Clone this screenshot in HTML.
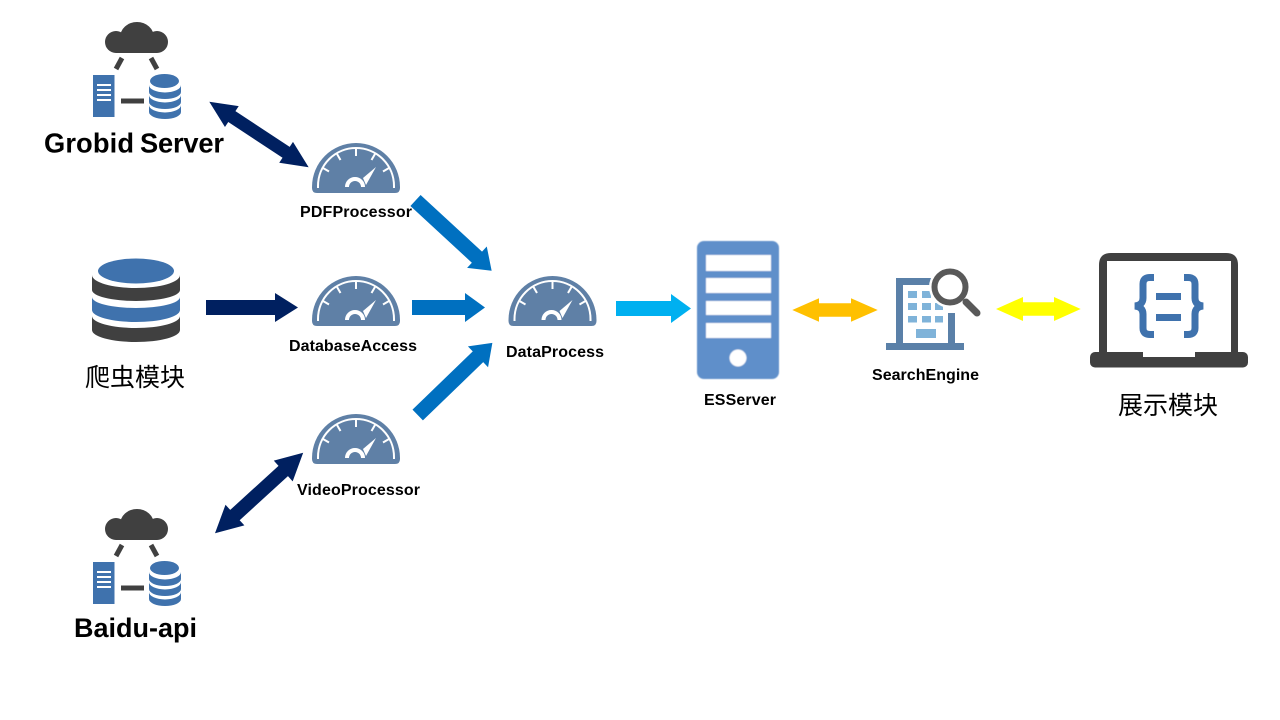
<!DOCTYPE html>
<html>
<head>
<meta charset="utf-8">
<style>
html,body{margin:0;padding:0;background:#fff;width:1280px;height:720px;overflow:hidden}
svg{display:block}
.b{font-family:"Liberation Sans",Arial,sans-serif;font-weight:bold;fill:#000}
.cjk{font-family:"Liberation Sans","Noto Sans CJK SC",sans-serif;fill:#000;font-size:25px}
</style>
</head>
<body>
<svg width="1280" height="720" viewBox="0 0 1280 720" xmlns="http://www.w3.org/2000/svg">
<defs>
  <filter id="soft" x="-5%" y="-5%" width="110%" height="110%"><feGaussianBlur stdDeviation="0.6"/></filter>
  <g id="gauge">
    <path d="M-44,0 A44,44 0 0 1 44,0 V1 Q44,6 39,6 H-39 Q-44,6 -44,1 Z" fill="#5f80a6"/>
    <path d="M-38,1 V-1 A38,38 0 0 1 38,-1 V1" fill="none" stroke="#fff" stroke-width="2"/>
    <g stroke="#fff" stroke-width="2">
      <line x1="0" y1="-38" x2="0" y2="-31"/>
      <line x1="-19" y1="-33" x2="-15.5" y2="-27"/>
      <line x1="19" y1="-33" x2="15.5" y2="-27"/>
      <line x1="-33" y1="-19" x2="-27" y2="-15.5"/>
      <line x1="33" y1="-19" x2="27" y2="-15.5"/>
    </g>
    <path d="M-9,0 A8,8 0 0 1 7,0" fill="none" stroke="#fff" stroke-width="4"/>
    <path d="M7,-9 L20,-20 L10,-2 Z" fill="#fff"/>
  </g>
  <g id="cluster">
    <g fill="#404040">
      <circle cx="116" cy="42" r="11"/>
      <circle cx="157" cy="42" r="11"/>
      <ellipse cx="137" cy="37.5" rx="17" ry="15.5"/>
      <rect x="116" y="38" width="41" height="15"/>
    </g>
    <g stroke="#404040" stroke-width="5">
      <line x1="122" y1="58" x2="116" y2="69"/>
      <line x1="151" y1="58" x2="157" y2="69"/>
      <line x1="121" y1="101" x2="144" y2="101"/>
    </g>
    <rect x="93" y="75" width="21.5" height="42" fill="#3f72ad"/>
    <g fill="#fff">
      <rect x="97" y="84" width="14" height="2"/>
      <rect x="97" y="89" width="14" height="2"/>
      <rect x="97" y="94" width="14" height="2"/>
      <rect x="97" y="99" width="14" height="2"/>
    </g>
    <g fill="#3f72ad">
      <ellipse cx="164.5" cy="81" rx="14.5" ry="7"/>
      <path d="M149,85 A16,7.5 0 0 0 181,85 V92 A16,7 0 0 1 149,92 Z"/>
      <path d="M149,95 A16,7.5 0 0 0 181,95 V102 A16,7 0 0 1 149,102 Z"/>
      <path d="M149,105 A16,7.5 0 0 0 181,105 V112 A16,7 0 0 1 149,112 Z"/>
    </g>
  </g>
</defs>

<!-- clusters -->
<use href="#cluster"/>
<use href="#cluster" transform="translate(0,487)"/>

<!-- big database -->
<ellipse cx="136" cy="271" rx="38" ry="12.5" fill="#3f72ad"/>
<path d="M92,275 A44,13 0 0 0 180,275 V290 A44,11 0 0 1 92,290 Z" fill="#404040"/>
<path d="M92,297 A44,11 0 0 0 180,297 V310 A44,12 0 0 1 92,310 Z" fill="#3f72ad"/>
<path d="M92,316 A44,12 0 0 0 180,316 V330 A44,12 0 0 1 92,330 Z" fill="#404040"/>

<!-- gauges -->
<use href="#gauge" transform="translate(356,187)"/>
<use href="#gauge" transform="translate(356,320)"/>
<use href="#gauge" transform="translate(552.5,320)"/>
<use href="#gauge" transform="translate(356,458)"/>

<!-- navy arrows -->
<polygon transform="translate(209.3,101.7) rotate(33.4)" fill="#002060" points="0,0 27,-12.5 27,-6.5 92,-6.5 92,-12.5 119,0 92,12.5 92,6.5 27,6.5 27,12.5"/>
<polygon fill="#002060" points="206,300 275,300 275,293 298,307.5 275,322 275,315 206,315"/>
<polygon transform="translate(215,533.3) rotate(-42.4)" fill="#002060" points="0,0 27,-14 27,-7 92.4,-7 92.4,-14 119.4,0 92.4,14 92.4,7 27,7 27,14"/>

<!-- blue arrows -->
<polygon transform="translate(415.5,200.5) rotate(42.7)" fill="#0070c0" points="0,-7.5 83.6,-7.5 83.6,-14.5 103.6,0 83.6,14.5 83.6,7.5 0,7.5"/>
<polygon fill="#0070c0" points="412,300 465,300 465,293 485,307.5 465,322 465,315 412,315"/>
<polygon transform="translate(417.7,415) rotate(-44)" fill="#0070c0" points="0,-7.5 83.8,-7.5 83.8,-14.5 103.8,0 83.8,14.5 83.8,7.5 0,7.5"/>

<!-- light arrows -->
<polygon fill="#00b0f0" points="616,301 671,301 671,294 691,308.5 671,323 671,316 616,316"/>
<polygon fill="#ffc000" points="792.3,310 819,298.3 819,303.3 851,303.3 851,298.3 877.7,310 851,321.7 851,316.7 819,316.7 819,321.7"/>
<polygon fill="#ffff00" points="996,309 1023,297 1023,302.3 1054,302.3 1054,297 1080.7,309 1054,321 1054,315.7 1023,315.7 1023,321"/>

<!-- ES server -->
<g filter="url(#soft)">
  <rect x="697" y="241" width="82" height="138" rx="7" fill="#5e8fca"/>
  <g fill="#fff">
    <rect x="706" y="255" width="65" height="16"/>
    <rect x="706" y="278" width="65" height="15"/>
    <rect x="706" y="301" width="65" height="14"/>
    <rect x="706" y="323" width="65" height="15"/>
    <circle cx="738" cy="358" r="8.5"/>
  </g>
</g>

<!-- search engine -->
<g fill="#5a80a8">
  <rect x="886" y="343" width="78" height="7"/>
  <rect x="896" y="278" width="7" height="66"/>
  <rect x="896" y="278" width="36" height="7"/>
  <rect x="948" y="313" width="7" height="31"/>
</g>
<g fill="#7fb3d9">
  <rect x="908" y="291" width="9" height="7"/><rect x="922" y="291" width="9" height="7"/>
  <rect x="908" y="303" width="9" height="7"/><rect x="922" y="303" width="9" height="7"/><rect x="935" y="303" width="8" height="7"/>
  <rect x="908" y="316" width="9" height="6.5"/><rect x="922" y="316" width="9" height="6.5"/><rect x="935" y="316" width="8" height="6.5"/>
  <rect x="916" y="329" width="20" height="9"/>
</g>
<circle cx="950" cy="287" r="21" fill="#fff"/>
<circle cx="950" cy="287" r="15.5" fill="#fff" stroke="#595959" stroke-width="6"/>
<line x1="966" y1="302" x2="977" y2="313" stroke="#595959" stroke-width="7" stroke-linecap="round"/>

<!-- laptop -->
<path d="M1099,353 V265 Q1099,253 1111,253 H1226 Q1238,253 1238,265 V353 Z" fill="#404040"/>
<rect x="1107" y="261" width="124" height="92" fill="#fff"/>
<rect x="1090" y="352" width="158" height="15.5" rx="5" fill="#404040"/>
<rect x="1143" y="351" width="52" height="6" fill="#fff"/>
<g fill="none" stroke="#3f72ad" stroke-width="7">
  <path d="M1154,277.5 H1150 Q1143,277.5 1143,284 V298 Q1143,305 1135,306 Q1143,307 1143,314 V328 Q1143,334.5 1150,334.5 H1154"/>
  <path d="M1184,277.5 H1188 Q1195,277.5 1195,284 V298 Q1195,305 1203,306 Q1195,307 1195,314 V328 Q1195,334.5 1188,334.5 H1184"/>
</g>
<rect x="1156" y="293" width="25" height="7" fill="#3f72ad"/>
<rect x="1156" y="314" width="25" height="7" fill="#3f72ad"/>

<!-- labels -->
<text class="b" x="44" y="152.5" font-size="27.3" textLength="90">Grobid</text>
<text class="b" x="140" y="152.5" font-size="27.3" textLength="84">Server</text>
<text class="b" x="74" y="637" font-size="27" textLength="123">Baidu-api</text>
<text class="b" x="300" y="217" font-size="16" textLength="112">PDFProcessor</text>
<text class="b" x="289" y="351" font-size="16" textLength="128">DatabaseAccess</text>
<text class="b" x="506" y="357" font-size="16" textLength="98">DataProcess</text>
<text class="b" x="297" y="495" font-size="16" textLength="123">VideoProcessor</text>
<text class="b" x="704" y="405" font-size="16" textLength="72">ESServer</text>
<text class="b" x="872" y="380" font-size="16" textLength="107">SearchEngine</text>
<text class="cjk" x="85" y="386">爬虫模块</text>
<text class="cjk" x="1118" y="414">展示模块</text>
</svg>
</body>
</html>
